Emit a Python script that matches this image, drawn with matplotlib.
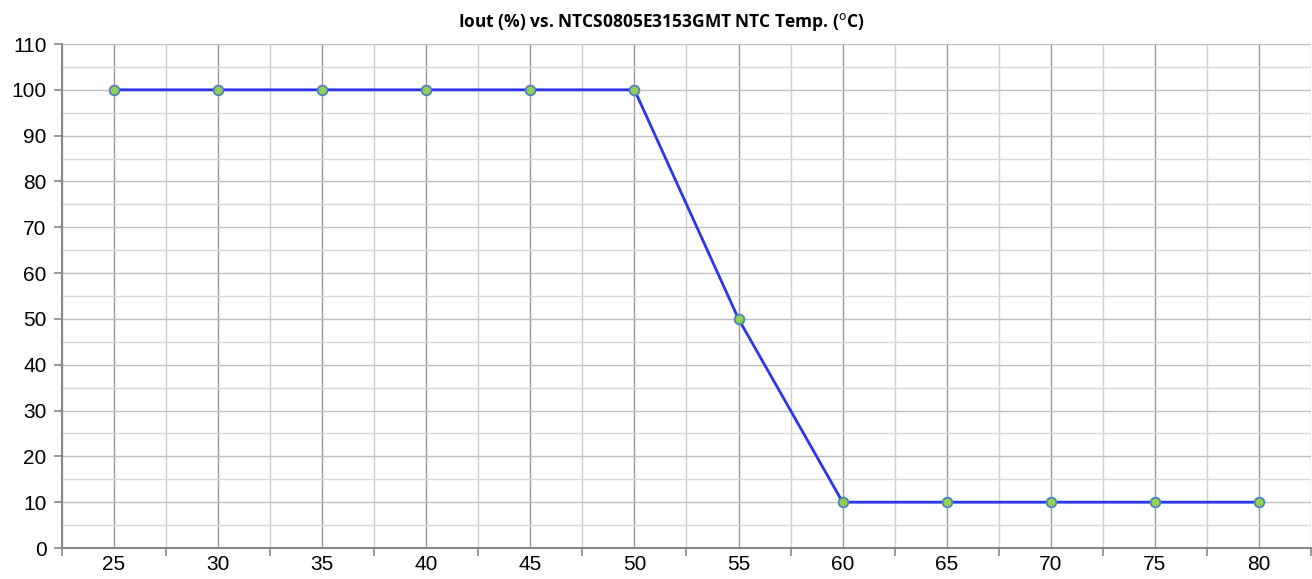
import numpy as np
import matplotlib.pyplot as plt
from matplotlib.ticker import MultipleLocator, FixedLocator

# data
temps = [25, 30, 35, 40, 45, 50, 55, 60, 65, 70, 75, 80]
iout = [100, 100, 100, 100, 100, 100, 50, 10, 10, 10, 10, 10]

plt.rcParams['font.family'] = ['Liberation Sans', 'DejaVu Sans']

fig = plt.figure(figsize=(13.12, 5.79), dpi=100)
ax = fig.add_axes([62 / 1312, 1 - 548 / 579, 1249 / 1312, 504 / 579])

x = np.arange(len(temps))
ax.plot(x, iout, color='#2a35f0', lw=2.0, marker='o', ms=7,
        mfc='#92d050', mec='#4f81bd', mew=1.3, zorder=3)

ax.set_xlim(-0.5, len(temps) - 0.5)
ax.set_ylim(0, 110)

# x: labels at category centres, tick marks on the boundaries
ax.xaxis.set_major_locator(FixedLocator(x))
ax.set_xticklabels([str(t) for t in temps])
ax.xaxis.set_minor_locator(FixedLocator(np.arange(-0.5, len(temps), 1.0)))
ax.tick_params(axis='x', which='major', length=0, pad=5, labelsize=15)
ax.tick_params(axis='x', which='minor', length=6, width=1.2, color='#888888')

ax.yaxis.set_major_locator(MultipleLocator(10))
ax.yaxis.set_minor_locator(MultipleLocator(5))
ax.tick_params(axis='y', which='major', length=6, width=1.2, color='#888888',
               pad=5, labelsize=15)
ax.tick_params(axis='y', which='minor', length=0)

ax.grid(True, axis='x', which='major', color='#999999', lw=1.0)
ax.grid(True, axis='x', which='minor', color='#d0d0d0', lw=1.0)
ax.grid(True, axis='y', which='major', color='#c0c0c0', lw=1.0)
ax.grid(True, axis='y', which='minor', color='#d8d8d8', lw=1.0)
ax.set_axisbelow(True)

for s in ['top', 'right']:
    ax.spines[s].set_visible(False)
for s in ['left', 'bottom']:
    ax.spines[s].set_color('#888888')
    ax.spines[s].set_linewidth(1.5)

fig.text(0.504, 0.962, 'Iout (%) vs. NTCS0805E3153GMT NTC Temp. ($^{\\rm o}$C)',
         ha='center', va='center', fontsize=12.5, fontweight='bold',
         family=['Open Sans', 'DejaVu Sans'])

fig.savefig('out.png', dpi=100)
